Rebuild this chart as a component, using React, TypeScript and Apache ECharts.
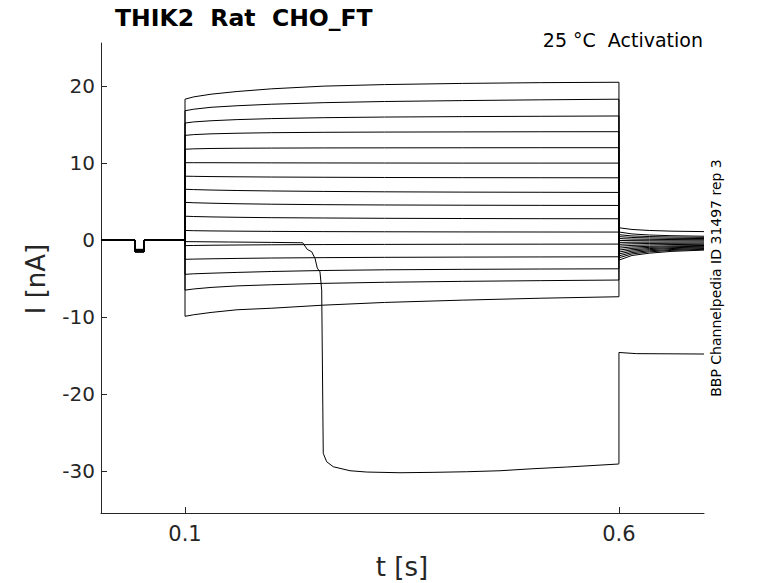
import React, { useEffect, useRef } from "react";
import * as echarts from "echarts";

// ---- data ----
const X_MIN = 0.0032;
const X_MAX = 0.698;
const Y_MIN = -35.45;
const Y_MAX = 25.6;
const X_TICKS = [0.1, 0.6];
const Y_TICKS = [-30, -20, -10, 0, 10, 20];

// holding period with the short test pulse (s)
const HOLD_T = [0.0032, 0.0424, 0.0424, 0.0528, 0.0528, 0.1];
// pulse depth per sweep (nA), top sweep first
const PULSE_DEPTH = [-1.2, -1.22, -1.25, -1.27, -1.3, -1.32, -1.35, -1.37, -1.4, -1.42, -1.45, -1.5, -1.47, -1.5, -1.52, -1.55, -1.55];

// step period (s)
const STEP_T = [0.1, 0.11, 0.13, 0.16, 0.2, 0.26, 0.33, 0.42, 0.51, 0.6];
// step currents (nA) for the regular sweeps, top first
const STEP_I = [
  [18.3, 18.6, 18.95, 19.3, 19.65, 20.0, 20.2, 20.35, 20.45, 20.5],
  [16.8, 17.0, 17.25, 17.45, 17.65, 17.85, 18.0, 18.12, 18.22, 18.3],
  [15.2, 15.35, 15.5, 15.65, 15.78, 15.9, 15.98, 16.04, 16.08, 16.12],
  [13.6, 13.7, 13.8, 13.88, 13.95, 14.0, 14.03, 14.05, 14.07, 14.08],
  [11.8, 11.85, 11.9, 11.93, 11.95, 11.97, 11.98, 11.99, 12.0, 12.0],
  [10.05, 10.05, 10.05, 10.04, 10.03, 10.02, 10.01, 10.0, 10.0, 10.0],
  [8.3, 8.28, 8.25, 8.22, 8.19, 8.16, 8.13, 8.11, 8.1, 8.09],
  [6.6, 6.56, 6.5, 6.44, 6.38, 6.32, 6.27, 6.23, 6.21, 6.19],
  [4.9, 4.85, 4.79, 4.72, 4.66, 4.6, 4.56, 4.53, 4.51, 4.5],
  [3.1, 3.06, 3.01, 2.96, 2.91, 2.87, 2.83, 2.8, 2.78, 2.77],
  [1.25, 1.22, 1.19, 1.16, 1.13, 1.1, 1.08, 1.06, 1.05, 1.04],
  [-0.72, -0.7, -0.67, -0.64, -0.61, -0.58, -0.56, -0.54, -0.53, -0.52],
  [-2.5, -2.47, -2.43, -2.38, -2.33, -2.28, -2.24, -2.21, -2.19, -2.17],
  [-4.45, -4.38, -4.3, -4.2, -4.08, -3.95, -3.86, -3.8, -3.76, -3.73],
  [-6.5, -6.35, -6.15, -5.95, -5.8, -5.62, -5.48, -5.36, -5.27, -5.19],
  [-9.9, -9.7, -9.4, -9.05, -8.85, -8.45, -8.1, -7.8, -7.55, -7.36],
];

// tail period (s)
const TAIL_T = [0.6, 0.615, 0.635, 0.66, 0.698];
const TAIL_I = [
  [-2.6, -2.0, -1.7, -1.47, -1.3],
  [-2.3, -1.8, -1.53, -1.34, -1.2],
  [-2.05, -1.62, -1.39, -1.23, -1.1],
  [-1.8, -1.44, -1.24, -1.1, -1.0],
  [-1.55, -1.26, -1.1, -0.99, -0.9],
  [-1.3, -1.08, -0.95, -0.87, -0.8],
  [-1.05, -0.89, -0.81, -0.75, -0.7],
  [-0.8, -0.69, -0.63, -0.58, -0.55],
  [-0.55, -0.48, -0.44, -0.42, -0.4],
  [-0.3, -0.28, -0.27, -0.26, -0.25],
  [-0.05, -0.07, -0.085, -0.095, -0.1],
  [0.2, 0.13, 0.1, 0.07, 0.05],
  [0.45, 0.34, 0.28, 0.23, 0.2],
  [0.7, 0.54, 0.46, 0.4, 0.35],
  [1.05, 0.8, 0.66, 0.57, 0.5],
  [1.6, 1.38, 1.25, 1.16, 1.1],
];

// the sweep that collapses to a large inward current
const ODD_T = [0.1, 0.15, 0.2, 0.2356, 0.2409, 0.246, 0.2498, 0.2524, 0.2555, 0.2575, 0.2593, 0.2632, 0.2708, 0.2901, 0.3093, 0.3477, 0.3857, 0.4245, 0.4629, 0.5009, 0.5397, 0.5992, 0.6, 0.6, 0.62, 0.698];
const ODD_I = [-0.2, -0.25, -0.3, -0.35, -1.21, -1.52, -2.38, -3.64, -4.12, -6.5, -27.7, -28.79, -29.44, -29.96, -30.13, -30.22, -30.17, -30.09, -29.96, -29.7, -29.48, -29.09, -29.05, -14.6, -14.75, -14.8];

const TITLE = "THIK2  Rat  CHO_FT";
const SUBTITLE = "25 °C  Activation";
const SIDE_NOTE = "BBP Channelpedia ID 31497 rep 3";
const X_NAME = "t [s]";
const Y_NAME = "I [nA]";

function holdPart(depth: number): number[][] {
  const vals = [0, 0, depth, depth, 0, 0];
  return HOLD_T.map((t, k) => [t, vals[k]]);
}

export default function App() {
  const ref = useRef<HTMLDivElement>(null);
  useEffect(() => {
    document.body.style.margin = "0";
    if (!ref.current) return;
    const chart = echarts.init(ref.current, undefined, { renderer: "svg" });

    const lineStyle = { color: "#000", width: 1 };
    const series: any[] = [];
    STEP_I.forEach((step, i) => {
      const pi = i < 11 ? i : i + 1;
      const data = [
        ...holdPart(PULSE_DEPTH[pi]),
        ...STEP_T.map((t, k) => [t, step[k]]),
        ...TAIL_T.map((t, k) => [t, TAIL_I[i][k]]),
      ];
      series.push({ type: "line", data, symbol: "none", showSymbol: false, lineStyle, silent: true, z: 2 });
    });
    series.push({
      type: "line",
      data: [...holdPart(PULSE_DEPTH[11]), ...ODD_T.map((t, k) => [t, ODD_I[k]])],
      symbol: "none",
      showSymbol: false,
      lineStyle,
      silent: true,
      z: 2,
    });

    const axisColor = "#262626";
    const font = "DejaVu Sans";
    chart.setOption({
      animation: false,
      backgroundColor: "#fff",
      grid: { left: 101, right: 74, top: 43, bottom: 70, outerBoundsMode: "none", containLabel: false },
      xAxis: {
        type: "value",
        min: X_MIN,
        max: X_MAX,
        splitLine: { show: false },
        axisLine: { show: true, onZero: false, lineStyle: { color: axisColor, width: 1 } },
        axisTick: { show: true, inside: true, length: 6, customValues: X_TICKS, lineStyle: { color: axisColor } },
        axisLabel: {
          customValues: X_TICKS,
          formatter: (v: number) => v.toFixed(1),
          fontSize: 21,
          color: axisColor,
          fontFamily: font,
          margin: 10,
        },
      },
      yAxis: {
        type: "value",
        min: Y_MIN,
        max: Y_MAX,
        splitLine: { show: false },
        axisLine: { show: true, onZero: false, lineStyle: { color: axisColor, width: 1 } },
        axisTick: { show: true, inside: true, length: 6, customValues: Y_TICKS, lineStyle: { color: axisColor } },
        axisLabel: {
          customValues: Y_TICKS,
          formatter: (v: number) => String(v),
          fontSize: 20,
          color: axisColor,
          fontFamily: font,
          margin: 6,
        },
      },
      graphic: [
        {
          type: "text",
          x: 115,
          y: 18,
          style: { text: TITLE, font: `bold 23.5px "${font}"`, fill: "#000", textAlign: "left", textVerticalAlign: "middle" },
        },
        {
          type: "text",
          x: 703,
          y: 40,
          style: { text: SUBTITLE, font: `19px "${font}"`, fill: "#000", textAlign: "right", textVerticalAlign: "middle" },
        },
        {
          type: "text",
          x: 716,
          y: 278,
          rotation: Math.PI / 2,
          style: { text: SIDE_NOTE, font: `14px "${font}"`, fill: "#000", textAlign: "center", textVerticalAlign: "middle" },
        },
        {
          type: "text",
          x: 402,
          y: 567,
          style: { text: X_NAME, font: `26px "${font}"`, fill: axisColor, textAlign: "center", textVerticalAlign: "middle" },
        },
        {
          type: "text",
          x: 36,
          y: 279,
          rotation: Math.PI / 2,
          style: { text: Y_NAME, font: `26px "${font}"`, fill: axisColor, textAlign: "center", textVerticalAlign: "middle" },
        },
      ],
      series,
    });
    return () => chart.dispose();
  }, []);
  return <div ref={ref} style={{ position: "absolute", left: 0, top: 0, width: 778, height: 583 }} />;
}
